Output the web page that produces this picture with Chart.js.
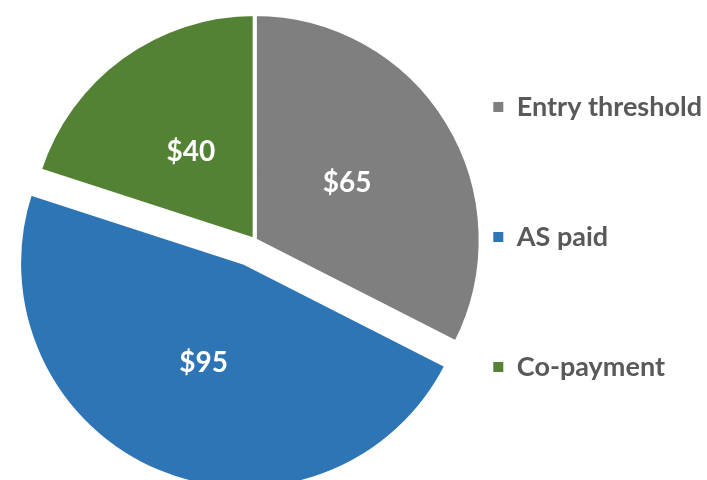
<!DOCTYPE html>
<html>
<head>
<meta charset="utf-8">
<script src="https://cdn.jsdelivr.net/npm/chart.js@4.4.1/dist/chart.umd.min.js"></script>
<style>
  html, body { margin: 0; padding: 0; background: #fff; }
  #wrap { width: 707px; height: 480px; }
</style>
</head>
<body>
<div id="wrap"><canvas id="pieChart"></canvas></div>
<script>
const categories = ['Entry threshold', 'AS paid', 'Co-payment'];
const amounts = [65, 95, 40];
const sliceColors = ['#7f7f7f', '#2e75b6', '#548235'];
const explode = [0, 25, 0];   // px pulled out along the slice's middle

// pull slices out of the pie (same radius, shifted centre)
const explodePlugin = {
  id: 'explode',
  afterDatasetUpdate(chart, args) {
    args.meta.data.forEach((arc, i) => {
      const d = explode[i] || 0;
      if (!d) return;
      const mid = (arc.startAngle + arc.endAngle) / 2;
      arc.x += Math.cos(mid) * d;
      arc.y += Math.sin(mid) * d;
    });
  },
};

// value labels inside the slices
const sliceLabels = {
  id: 'sliceLabels',
  afterDatasetsDraw(chart) {
    const ctx = chart.ctx;
    const meta = chart.getDatasetMeta(0);
    ctx.save();
    ctx.font = 'bold 28px Lato, "Open Sans", sans-serif';
    ctx.fillStyle = '#ffffff';
    ctx.textAlign = 'center';
    ctx.textBaseline = 'middle';
    meta.data.forEach((arc, i) => {
      const mid = (arc.startAngle + arc.endAngle) / 2;
      const r = arc.outerRadius * 0.48;
      ctx.fillText('$' + amounts[i], arc.x + Math.cos(mid) * r, arc.y + Math.sin(mid) * r);
    });
    ctx.restore();
  },
};

new Chart(document.getElementById('pieChart'), {
  type: 'pie',
  data: {
    labels: categories,
    datasets: [{
      data: amounts,
      backgroundColor: sliceColors,
      borderColor: '#ffffff',
      borderWidth: 4,
    }],
  },
  options: {
    responsive: true,
    maintainAspectRatio: false,
    animation: false,
    radius: 226,
    layout: { padding: { left: 119, top: -10, bottom: -4, right: -5 } },
    plugins: {
      tooltip: { enabled: false },
      legend: {
        position: 'right',
        maxWidth: 400,
        labels: {
          boxWidth: 10,
          boxHeight: 10,
          padding: 103,
          color: '#595959',
          font: { family: 'Lato, "Open Sans", sans-serif', size: 27, weight: 'bold' },
          generateLabels(chart) {
            return Chart.overrides.pie.plugins.legend.labels.generateLabels(chart)
              .map(item => ({ ...item, lineWidth: 0, strokeStyle: 'transparent' }));
          },
        },
      },
    },
  },
  plugins: [explodePlugin, sliceLabels],
});
</script>
</body>
</html>
